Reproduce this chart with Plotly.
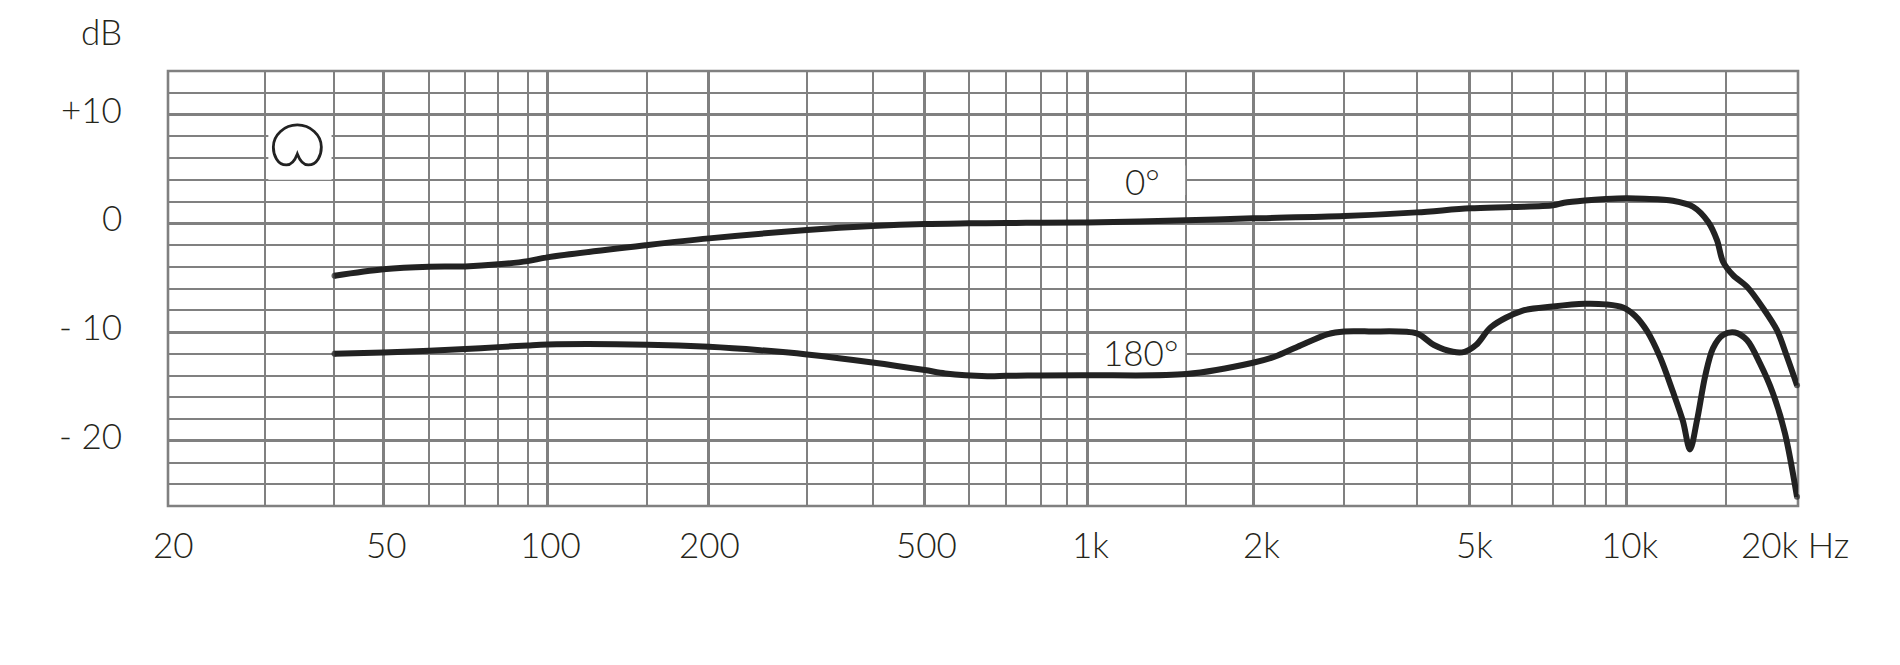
import math
import plotly.graph_objects as go

x_major = [49.8, 99.8, 198, 494, 986, 1986, 4980, 9664]
x_minor = [30.2, 40.5, 60.5, 70.5, 81.1, 91.9, 152, 300, 396, 596, 698, 808, 902,
           1495, 2926, 3974, 5943, 7082, 8100, 8863, 14748]
x_labels = ["20", "50", "100", "200", "500", "1k", "2k", "5k", "10k", "20k Hz"]
x_label_at = [20, 50, 100, 198, 494, 986, 1986, 4980, 9664, 20000]
x_label_shift = [5, 2, 3, 1, 2, 3, 8, 5, 4, -3]
y_labels = ["+10", "0", "- 10", "- 20"]
y_label_at = [10, 0, -10, -20]

f0 = [40.5, 49.8, 60.5, 70.5, 81.1, 91.9, 99.8, 152.9, 198, 300, 396, 494, 596, 698, 808, 986,
      1495, 1986, 2926, 3974, 4980, 5943, 7082, 7420, 8100, 8863, 9664, 10432, 11772, 12820,
      13660, 14188, 14556, 15184, 16114, 17246, 18294, 19090, 19916]
db0 = [-4.83, -4.24, -4.0, -3.97, -3.78, -3.48, -3.14, -2.0, -1.39, -0.63, -0.26, -0.07, -0.01,
       0.02, 0.05, 0.08, 0.27, 0.45, 0.66, 1.0, 1.37, 1.49, 1.65, 1.89, 2.1, 2.23, 2.29, 2.25,
       2.07, 1.52, 0.14, -1.55, -3.54, -4.77, -5.84, -7.8, -9.83, -12.28, -14.9]

f180 = [40.5, 49.8, 60.5, 70.5, 81.1, 91.9, 99.8, 152.9, 198, 246, 300, 396, 494, 539, 644, 698,
        808, 986, 1495, 1986, 2176, 2399, 2729, 2926, 3246, 3974, 4276, 4636, 4868, 5110, 5454,
        6210, 7082, 8100, 8863, 9530, 10024, 10546, 11144, 11772, 12282, 12654, 13038, 13488,
        13948, 14556, 15312, 16114, 17024, 17990, 18928, 19916]
db180 = [-12.0, -11.88, -11.73, -11.57, -11.39, -11.23, -11.15, -11.17, -11.36, -11.67, -12.06,
         -12.8, -13.5, -13.81, -14.06, -14.03, -13.99, -13.97, -13.87, -12.83, -12.28, -11.36,
         -10.19, -9.95, -9.95, -10.13, -11.2, -11.82, -11.82, -11.2, -9.52, -8.05, -7.65, -7.4,
         -7.46, -7.74, -8.5, -9.9, -12.3, -15.5, -18.2, -20.8, -18.1, -14.1, -11.5, -10.28,
         -10.04, -10.75, -12.89, -15.65, -19.33, -25.16]

GRID = "#808080"
INK = "#222222"
TXT = "#25251a"
FONT = "Lato"
FS = 35

fig = go.Figure()
for f, d, name in ((f0, db0, "0°"), (f180, db180, "180°")):
    sizes = [6] + [0] * (len(f) - 2) + [6]
    fig.add_trace(go.Scatter(
        x=f, y=d, name=name, mode="lines+markers",
        line=dict(color=INK, width=6, shape="spline", smoothing=0.9),
        marker=dict(color=INK, size=sizes, line=dict(width=0)),
        showlegend=False, hoverinfo="skip", cliponaxis=False))

# white patches behind the labels and the pattern icon
patches = [(30.6, 40.0, 4.0, 9.4), (992, 1490, 2.6, 5.3), (992, 1490, -14.0, -10.6)]
shapes = [dict(type="rect", layer="between", xref="x", yref="y", x0=a, x1=b, y0=c, y1=d,
               fillcolor="white", line=dict(width=0)) for a, b, c, d in patches]

# outer frame of the grid
shapes.append(dict(type="rect", layer="between", xref="paper", yref="paper", x0=0, x1=1, y0=0, y1=1,
                   line=dict(color=GRID, width=2.6), fillcolor="rgba(0,0,0,0)"))

# cardioid pattern icon, pixel-sized and anchored on the grid
shapes.append(dict(
    type="path", layer="above", xref="x", yref="y", xsizemode="pixel", ysizemode="pixel",
    xanchor=34.6, yanchor=7.2,
    path="M 0 -9 C -3 -17 -7 -20 -11 -20 C -20 -20 -24 -10 -24 -2 C -24 10 -13 20 0 20 "
         "C 13 20 24 10 24 -2 C 24 -10 20 -20 11 -20 C 7 -20 3 -17 0 -9 Z",
    line=dict(color=INK, width=2.8), fillcolor="rgba(0,0,0,0)"))

ann = []
for lab, at, sh in zip(x_labels, x_label_at, x_label_shift):
    ann.append(dict(text=lab, x=math.log10(at), xref="x", y=0, yref="paper", yanchor="middle",
                    yshift=-38, xanchor="center", xshift=sh, showarrow=False))
for lab, at in zip(y_labels, y_label_at):
    ann.append(dict(text=lab, x=0, xref="paper", xshift=-44, xanchor="right", y=at, yref="y",
                    yanchor="middle", yshift=6, showarrow=False))
ann.append(dict(text="dB", x=0, xref="paper", xshift=-44, xanchor="right", y=1, yref="paper",
                yanchor="middle", yshift=40, showarrow=False))
ann.append(dict(text="0°", x=math.log10(1245), xref="x", y=3.9, yref="y", showarrow=False,
                xanchor="center", yanchor="middle"))
ann.append(dict(text="180°", x=math.log10(1235), xref="x", y=-11.8, yref="y", showarrow=False,
                xanchor="center", yanchor="middle"))

fig.update_layout(
    width=1900, height=665, margin=dict(l=168, r=102, t=71, b=159),
    paper_bgcolor="white", plot_bgcolor="white", showlegend=False,
    font=dict(family=FONT, size=FS, color=TXT, weight=300),
    shapes=shapes, annotations=ann,
    xaxis=dict(type="log", range=[math.log10(20), math.log10(20000)],
               tickmode="array", tickvals=x_major, showticklabels=False, ticks="",
               showgrid=True, gridcolor=GRID, gridwidth=2.6,
               minor=dict(tickmode="array", tickvals=x_minor, showgrid=True,
                          gridcolor=GRID, gridwidth=1.5, ticks=""),
               showline=False, zeroline=False),
    yaxis=dict(range=[-26, 14], tickmode="linear", tick0=0, dtick=10, showticklabels=False,
               ticks="", showgrid=True, gridcolor=GRID, gridwidth=2.6,
               minor=dict(tickmode="linear", tick0=0, dtick=2, showgrid=True,
                          gridcolor=GRID, gridwidth=1.5, ticks=""),
               showline=False, zeroline=False),
)

fig.write_html("out.html", config=dict(displayModeBar=False),
               post_script="document.body.style.margin='0';document.body.style.overflow='hidden';")
